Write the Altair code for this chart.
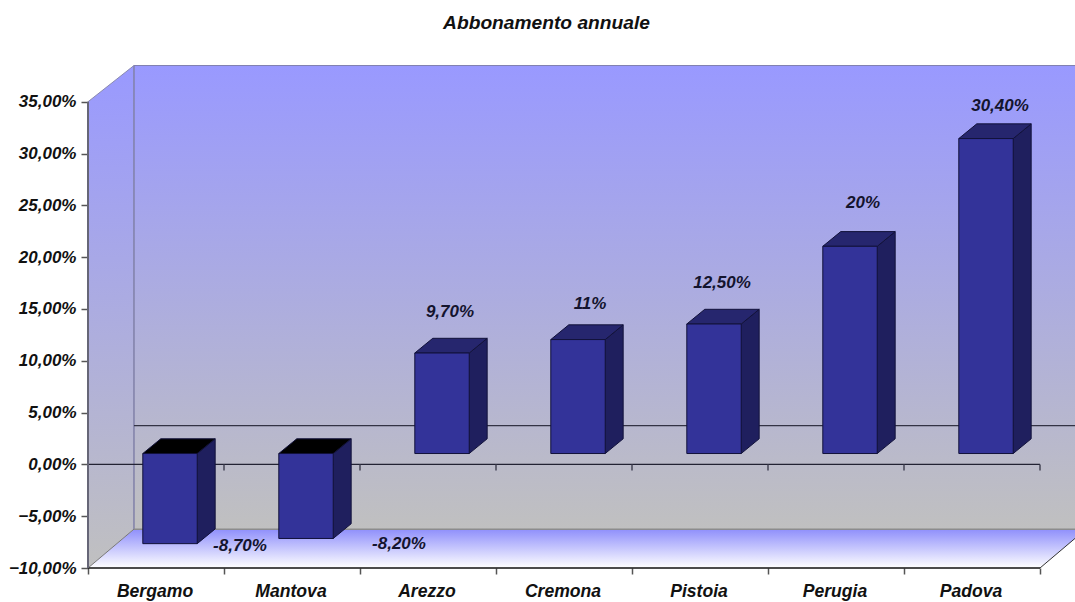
import altair as alt
import pandas as pd

# Survey figures
cities = ["Bergamo", "Mantova", "Arezzo", "Cremona", "Pistoia", "Perugia", "Padova"]
changes = [-8.7, -8.2, 9.7, 11, 12.5, 20, 30.4]
change_labels = ["-8,70%", "-8,20%", "9,70%", "11%", "12,50%", "20%", "30,40%"]
y_ticks = [-10, -5, 0, 5, 10, 15, 20, 25, 30, 35]

# Pseudo-3D projection, expressed in axis units
X_MAX = 987 / 136
Y_MIN, Y_MAX = -10, 38.55
WALL_DX = 0.338                     # depth of the chart box
FLOOR_DY, TOP_DY = 3.75, 3.5
BAR_SHIFT, BAR_LIFT = 0.103, 1.05   # where the bar's front face sits in the box
BAR_HALF = 0.2
BAR_DX, BAR_DY = 0.132, 1.42        # depth of one bar

FONT = "Liberation Sans"
x_scale = alt.Scale(domain=[0, X_MAX], nice=False, zero=False)
y_scale = alt.Scale(domain=[Y_MIN, Y_MAX], nice=False, zero=False)

x_axis = alt.Axis(
    values=list(range(8)), labels=False, domain=False, grid=False, title=None,
    ticks=True, tickSize=6, tickColor="#555555", tickWidth=1.5)
y_axis = alt.Axis(
    values=y_ticks, domain=False, grid=False, title=None,
    labelExpr="replace(format(datum.value, '.2f'), '.', ',') + '%'",
    labelFont=FONT, labelFontSize=17, labelFontStyle="italic",
    labelFontWeight="bold", labelColor="#111111", labelPadding=5,
    tickSize=7, tickColor="#555555", tickWidth=1.5)

X = lambda f="x": alt.X(f"{f}:Q", scale=x_scale, axis=x_axis)
Y = lambda f="y": alt.Y(f"{f}:Q", scale=y_scale, axis=y_axis)


def vertical(c0, c1):
    return alt.Gradient(gradient="linear", x1=0, x2=0, y1=0, y2=1,
                        stops=[alt.GradientStop(color=c0, offset=0),
                               alt.GradientStop(color=c1, offset=1)])


def segment(x, x2, y, y2, color, width=1):
    df = pd.DataFrame({"x": [x], "x2": [x2], "y": [y], "y2": [y2]})
    return alt.Chart(df).mark_rule(color=color, strokeWidth=width).encode(
        x=X(), x2="x2:Q", y=Y(), y2="y2:Q")


# The box: back wall, left wall and floor
back_wall = alt.Chart(pd.DataFrame({
    "x": [WALL_DX], "x2": [X_MAX], "y": [Y_MIN + FLOOR_DY], "y2": [35 + TOP_DY]
})).mark_rect(fill=vertical("#9999ff", "#c0c0c0")).encode(
    x=X(), x2="x2:Q", y=Y(), y2="y2:Q")

left_wall = alt.Chart(pd.DataFrame({
    "x": [0, WALL_DX], "y": [35, 35 + TOP_DY], "y2": [Y_MIN, Y_MIN + FLOOR_DY]
})).mark_area(fill=vertical("#9999ff", "#c0c0c0")).encode(x=X(), y=Y(), y2="y2:Q")

floor = alt.Chart(pd.DataFrame({
    "y": [Y_MIN, Y_MIN + FLOOR_DY], "x": [0, WALL_DX], "x2": [7, 7 + WALL_DX]
})).mark_area(orient="horizontal", fill=vertical("#8f8ffb", "#ffffff")).encode(
    x=X(), x2="x2:Q", y=Y())

# Zero lines and box edges, drawn before the bars so that the bars hide them
lines = [
    segment(WALL_DX, WALL_DX, 35 + TOP_DY, Y_MIN + FLOOR_DY, "#8080a8", 1.5),
    segment(WALL_DX, X_MAX, 35 + TOP_DY, 35 + TOP_DY, "#8080b0", 1),
    segment(0, WALL_DX, 35, 35 + TOP_DY, "#8a8ab0", 1),
    segment(WALL_DX, X_MAX, Y_MIN + FLOOR_DY, Y_MIN + FLOOR_DY, "#8c8c8c", 1.5),
    segment(0, WALL_DX, Y_MIN, Y_MIN + FLOOR_DY, "#777777", 1),
    segment(7, 7 + WALL_DX, Y_MIN, Y_MIN + FLOOR_DY, "#333333", 1),
    segment(WALL_DX, X_MAX, FLOOR_DY, FLOOR_DY, "#333344", 1.2),
    segment(0, 7, 0, 0, "#222233", 1.2),
    segment(0, 7, Y_MIN, Y_MIN, "#111111", 1.4),
    segment(0, 0, Y_MIN, 35, "#666677", 2),
]
for i in range(1, 8):
    lines.append(segment(i, i, 0, -0.6, "#444455", 1.5))

# Bars: front, side and top faces
front_rows, side_rows, top_rows = [], [], []
for i, v in enumerate(changes):
    left = i + 0.5 + BAR_SHIFT - BAR_HALF
    right = i + 0.5 + BAR_SHIFT + BAR_HALF
    base, tip = BAR_LIFT, v + BAR_LIFT
    top = max(base, tip)
    low = min(base, tip)
    front_rows.append({"x": left, "x2": right, "y": low, "y2": top})
    side_rows += [
        {"bar": i, "x": right, "y": top, "y2": low},
        {"bar": i, "x": right + BAR_DX, "y": top + BAR_DY, "y2": low + BAR_DY},
    ]
    cap = "#000000" if v < 0 else "#26266e"
    top_rows += [
        {"bar": i, "cap": cap, "y": top, "x": left, "x2": right},
        {"bar": i, "cap": cap, "y": top + BAR_DY, "x": left + BAR_DX, "x2": right + BAR_DX},
    ]

EDGE = "#12123a"
sides = alt.Chart(pd.DataFrame(side_rows)).mark_area(
    fill="#1f1f5e", stroke=EDGE, strokeWidth=1).encode(
    x=X(), y=Y(), y2="y2:Q", detail="bar:N")
tops = alt.Chart(pd.DataFrame(top_rows)).mark_area(
    orient="horizontal", stroke=EDGE, strokeWidth=1).encode(
    x=X(), x2="x2:Q", y=Y(), detail="bar:N",
    fill=alt.Fill("cap:N", scale=None))
fronts = alt.Chart(pd.DataFrame(front_rows)).mark_rect(
    fill="#333399", stroke=EDGE, strokeWidth=1).encode(
    x=X(), x2="x2:Q", y=Y(), y2="y2:Q")

# Value labels float at their own distance from each bar end
label_nudges = {
    "Bergamo": (70, 2), "Mantova": (93, 6), "Arezzo": (8, -41), "Cremona": (12, -36),
    "Pistoia": (8, -41), "Perugia": (13, -43), "Padova": (14, -33),
}
value_labels = []
for i, (city, v, text) in enumerate(zip(cities, changes, change_labels)):
    dx, dy = label_nudges[city]
    value_labels.append(
        alt.Chart(pd.DataFrame({
            "x": [i + 0.5 + BAR_SHIFT], "y": [v + BAR_LIFT], "t": [text]
        })).mark_text(
            font=FONT, fontSize=17, fontStyle="italic", fontWeight="bold",
            color="#14142e", dx=dx, dy=dy, baseline="middle", align="center"
        ).encode(x=X(), y=Y(), text="t:N"))

city_labels = alt.Chart(pd.DataFrame({
    "x": [i + 0.5 for i in range(len(cities))],
    "y": [-12.35] * len(cities),
    "t": cities,
})).mark_text(
    font=FONT, fontSize=17.6, fontStyle="italic", fontWeight="bold",
    color="#111111", baseline="middle", align="center", dx=-1
).encode(x=X(), y=Y(), text="t:N")

chart = alt.layer(
    back_wall, left_wall, floor, *lines, sides, tops, fronts, *value_labels, city_labels
).properties(
    width=987,
    height=503,
    padding={"left": 88, "top": 65, "right": 0, "bottom": 34},
    autosize=alt.AutoSizeParams(type="none"),
    background="#ffffff",
    title=alt.TitleParams(
        "Abbonamento annuale", font=FONT, fontSize=19.2, fontStyle="italic",
        fontWeight="bold", color="#111111", anchor="middle", dx=-35, offset=32),
).configure_view(stroke=None)

chart.save("out.html", embed_options={"renderer": "svg", "actions": False})
